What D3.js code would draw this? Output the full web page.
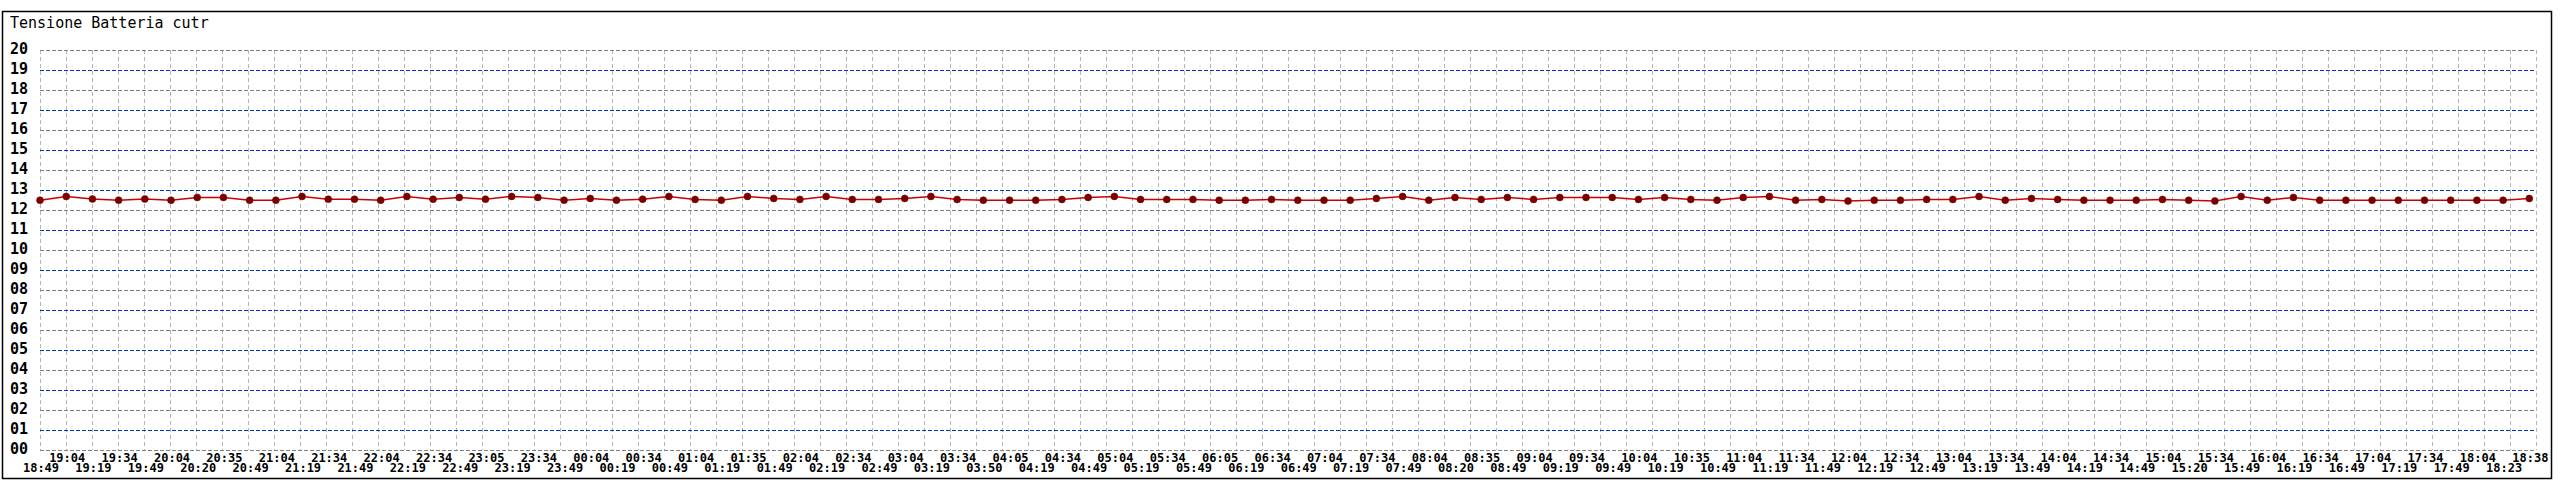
<!DOCTYPE html>
<html>
<head>
<meta charset="utf-8">
<script src="https://cdn.jsdelivr.net/npm/d3@7/dist/d3.min.js"></script>
<style>
  html, body { margin: 0; padding: 0; background: #fff; }
  svg { display: block; }
</style>
</head>
<body>
<svg id="chart" width="2560" height="480"></svg>
<script>
const title = "Tensione Batteria cutr";

const times = [
  "18:49","19:04","19:19","19:34","19:49","20:04","20:20","20:35","20:49","21:04",
  "21:19","21:34","21:49","22:04","22:19","22:34","22:49","23:05","23:19","23:34",
  "23:49","00:04","00:19","00:34","00:49","01:04","01:19","01:35","01:49","02:04",
  "02:19","02:34","02:49","03:04","03:19","03:34","03:50","04:05","04:19","04:34",
  "04:49","05:04","05:19","05:34","05:49","06:05","06:19","06:34","06:49","07:04",
  "07:19","07:34","07:49","08:04","08:20","08:35","08:49","09:04","09:19","09:34",
  "09:49","10:04","10:19","10:35","10:49","11:04","11:19","11:34","11:49","12:04",
  "12:19","12:34","12:49","13:04","13:19","13:34","13:49","14:04","14:19","14:34",
  "14:49","15:04","15:20","15:34","15:49","16:04","16:19","16:34","16:49","17:04",
  "17:19","17:34","17:49","18:04","18:23","18:38"
];

const voltage = [
  12.49,12.68,12.55,12.49,12.55,12.49,12.63,12.63,12.49,12.49,
  12.68,12.54,12.54,12.49,12.68,12.54,12.63,12.54,12.68,12.63,
  12.49,12.58,12.49,12.54,12.68,12.53,12.49,12.68,12.58,12.53,
  12.68,12.53,12.53,12.58,12.68,12.53,12.49,12.49,12.49,12.53,
  12.63,12.68,12.53,12.53,12.53,12.49,12.49,12.53,12.49,12.49,
  12.49,12.58,12.68,12.49,12.63,12.53,12.63,12.53,12.63,12.63,
  12.63,12.53,12.63,12.53,12.49,12.63,12.68,12.49,12.53,12.45,
  12.49,12.49,12.53,12.53,12.68,12.49,12.58,12.53,12.49,12.49,
  12.49,12.53,12.49,12.45,12.68,12.49,12.63,12.49,12.49,12.49,
  12.49,12.49,12.49,12.49,12.49,12.58
];

const yTicks = d3.range(0, 21);

const svg = d3.select("#chart");

// frame
svg.append("rect")
  .attr("x", 2.5).attr("y", 11.5)
  .attr("width", 2549).attr("height", 467)
  .attr("fill", "#fff").attr("stroke", "#000").attr("stroke-width", 1.5);

svg.append("text")
  .attr("x", 10).attr("y", 28)
  .attr("font-family", "DejaVu Sans Mono")
  .attr("font-size", 15)
  .attr("fill", "#000")
  .text(title);

const y = d3.scaleLinear().domain([0, 20]).range([450, 50]);
const x = d3.scalePoint().domain(times).range([40, 2529.3]);
const gridX = d3.scaleLinear().domain([0, 96]).range([40, 2536]);

// vertical grid
svg.append("g").attr("shape-rendering", "crispEdges").selectAll("line")
  .data(d3.range(0, 97))
  .join("line")
  .attr("x1", d => gridX(d) + 0.5).attr("x2", d => gridX(d) + 0.5)
  .attr("y1", 50).attr("y2", 450)
  .attr("stroke", "#b4b4b4").attr("stroke-width", 1)
  .attr("stroke-dasharray", "4,3");

// horizontal grid
svg.append("g").attr("shape-rendering", "crispEdges").selectAll("line")
  .data(yTicks)
  .join("line")
  .attr("x1", 40).attr("x2", 2536)
  .attr("y1", d => y(d) + 0.5).attr("y2", d => y(d) + 0.5)
  .attr("stroke", d => d % 2 ? "#0033cc" : "#808080")
  .attr("stroke-width", 1)
  .attr("stroke-dasharray", "4,2");

// y labels
const fmt = d3.format("02d");
svg.append("g").selectAll("text")
  .data(yTicks)
  .join("text")
  .attr("x", 28).attr("y", d => y(d) + 4)
  .attr("text-anchor", "end")
  .attr("font-family", "DejaVu Sans Mono")
  .attr("font-weight", "bold")
  .attr("font-size", 15)
  .attr("fill", "#000")
  .text(d => fmt(d));

// x labels
svg.append("g").selectAll("text")
  .data(times)
  .join("text")
  .attr("x", d => x(d) + 1)
  .attr("y", (d, i) => i % 2 ? 462 : 472)
  .attr("text-anchor", "middle")
  .attr("font-family", "DejaVu Sans Mono")
  .attr("font-weight", "bold")
  .attr("font-size", 12)
  .attr("fill", "#000")
  .text(d => d);

// line
const line = d3.line()
  .x((d, i) => x(times[i]))
  .y(d => y(d));

svg.append("path")
  .datum(voltage)
  .attr("d", line)
  .attr("fill", "none")
  .attr("stroke", "#cc0000")
  .attr("stroke-width", 1.5);

// markers
svg.append("g").selectAll("circle")
  .data(voltage)
  .join("circle")
  .attr("cx", (d, i) => x(times[i]))
  .attr("cy", d => y(d))
  .attr("r", 3.5)
  .attr("fill", "#7a0000")
  .attr("stroke", "#7a0000")
  .attr("stroke-width", 0.5);
</script>
</body>
</html>
